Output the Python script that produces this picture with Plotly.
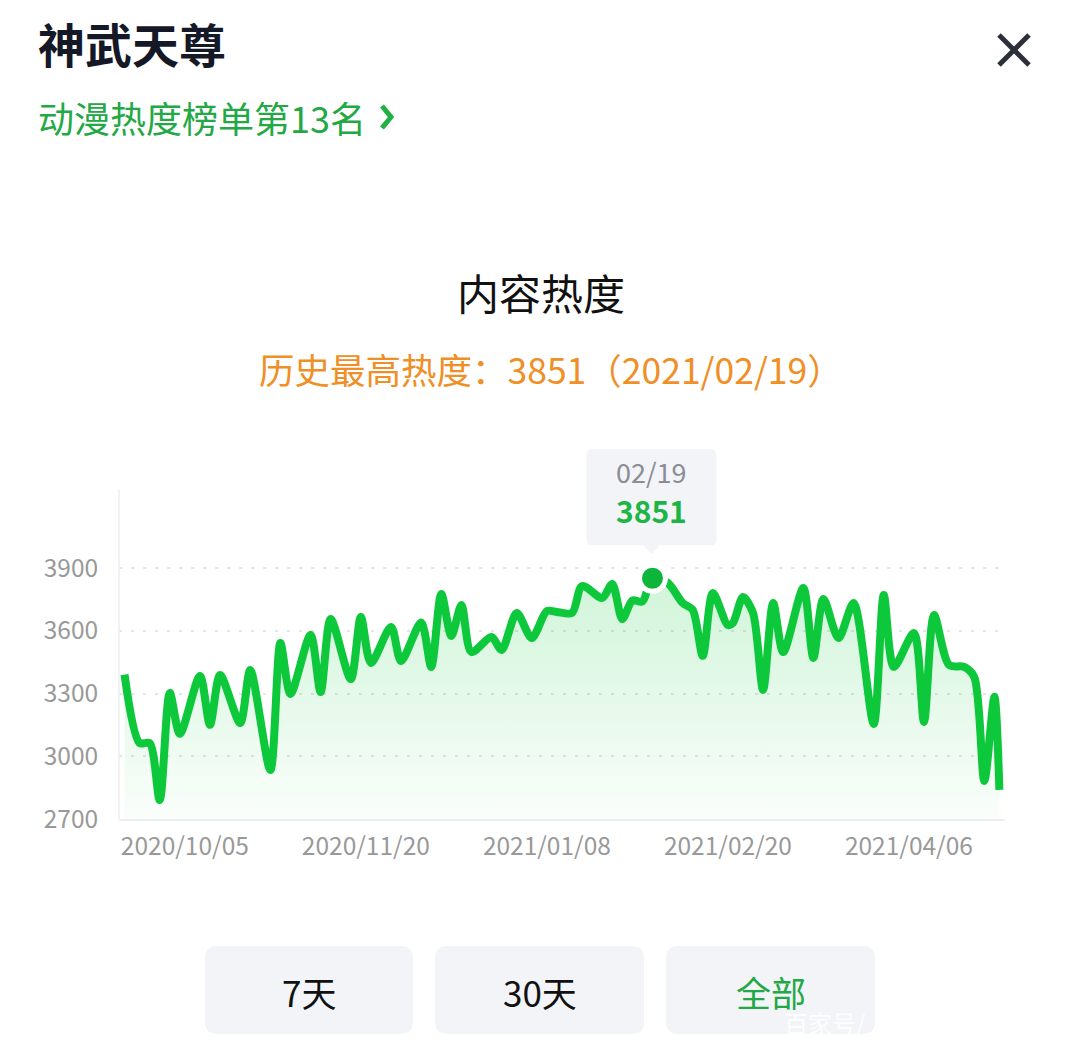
import plotly.graph_objects as go

# ---------------- data ----------------
day_idx = [1, 4, 6, 8, 10, 12, 16, 18, 20, 24, 26, 30, 32, 34, 38, 40, 42, 46, 48, 50,
           54, 56, 60, 62, 64, 66, 68, 70, 74, 76, 79, 82, 85, 87, 90, 92, 96, 98, 100, 102,
           104, 106, 109, 112, 114, 116, 118, 121, 122, 124, 126, 128, 130, 132, 136, 138, 140, 143, 146, 150,
           152, 154, 158, 160, 162, 165, 168, 170, 172, 174, 175]
heat = [3390, 3063, 3063, 2791, 3303, 3107, 3384, 3150, 3388, 3159, 3412, 2934, 3541, 3298, 3580, 3307, 3656, 3369, 3666, 3446,
        3618, 3455, 3640, 3427, 3776, 3575, 3723, 3498, 3570, 3508, 3685, 3565, 3694, 3690, 3685, 3814, 3757, 3824, 3656, 3745,
        3740, 3851, 3830, 3733, 3700, 3480, 3780, 3627, 3637, 3761, 3685, 3317, 3733, 3498, 3804, 3470, 3752, 3565, 3733, 3154,
        3771, 3427, 3589, 3164, 3675, 3436, 3427, 3379, 2882, 3284, 2839]
tick_idx = [13, 49, 85, 121, 157]
tick_labels = ["2020/10/05", "2020/11/20", "2021/01/08", "2021/02/20", "2021/04/06"]
y_ticks = [2700, 3000, 3300, 3600, 3900]
peak_date_full = "2021/02/19"
peak_date_short = "02/19"
title = "神武天尊"
rank_text = "动漫热度榜单第13名"
chart_title = "内容热度"
buttons = ["7天", "30天", "全部"]

peak_val = max(heat)
peak_x = day_idx[heat.index(peak_val)]

# ---------------- layout helpers ----------------
OFF = 8                      # default page body margin
W, H = 1080 - OFF, 1048 - OFF
PL, PR, PT, PB = 119, 1005, 440, 819          # plot area in page pixels
L, R, T, B = PL - OFF, PR - OFF, PT - OFF, PB - OFF
FONT = "Noto Sans CJK SC"
GREEN = "#0cc83a"


def px(x):
    return (x - OFF - L) / (R - L)


def py(y):
    return (B - (y - OFF)) / (B - T)


def rrect_paper(x0, y0, x1, y1, r):
    def P(x, y):
        return f"{px(x):.5f},{py(y):.5f}"
    return (f"M {P(x0 + r, y0)} L {P(x1 - r, y0)} Q {P(x1, y0)} {P(x1, y0 + r)} "
            f"L {P(x1, y1 - r)} Q {P(x1, y1)} {P(x1 - r, y1)} L {P(x0 + r, y1)} "
            f"Q {P(x0, y1)} {P(x0, y1 - r)} L {P(x0, y0 + r)} Q {P(x0, y0)} {P(x0 + r, y0)} Z")


fig = go.Figure()

fig.add_trace(go.Scatter(
    x=day_idx, y=heat, mode="lines",
    line=dict(color=GREEN, width=8, shape="spline", smoothing=0.8),
    fill="tozeroy",
    fillgradient=dict(type="vertical",
                      colorscale=[[0, "rgba(12,200,58,0.02)"], [1, "rgba(12,200,58,0.20)"]],
                      start=2700, stop=3900),
    hoverinfo="skip", showlegend=False))

fig.add_trace(go.Scatter(
    x=[peak_x], y=[peak_val], mode="markers",
    marker=dict(size=26, color="#0db53a", line=dict(color="white", width=5)),
    hoverinfo="skip", showlegend=False))

shapes = []
# faint left axis line
shapes.append(dict(type="line", xref="paper", yref="paper", x0=0, x1=0, y0=py(490), y1=0,
                   line=dict(color="#eeeeee", width=1.5)))
# tooltip box with pointer (pixel offsets from the peak point, y up)
x0, x1, y0, y1, r = -66, 64, 33, 129, 6
tip_path = (f"M {x0 + r},{y0} L -9,{y0} L -1,{y0 - 9} L 7,{y0} L {x1 - r},{y0} Q {x1},{y0} {x1},{y0 + r} "
            f"L {x1},{y1 - r} Q {x1},{y1} {x1 - r},{y1} L {x0 + r},{y1} Q {x0},{y1} {x0},{y1 - r} "
            f"L {x0},{y0 + r} Q {x0},{y0} {x0 + r},{y0} Z")
shapes.append(dict(type="path", xref="x", yref="y", xsizemode="pixel", ysizemode="pixel",
                   xanchor=peak_x, yanchor=peak_val, path=tip_path,
                   fillcolor="#f2f4f8", line=dict(width=0), layer="above"))

# close X
for (a, b, c, d) in [(999, 35, 1029, 65), (999, 65, 1029, 35)]:
    shapes.append(dict(type="line", xref="paper", yref="paper", x0=px(a), y0=py(b), x1=px(c), y1=py(d),
                       line=dict(color="#2b2f3a", width=5)))
# chevron
shapes.append(dict(type="path", xref="paper", yref="paper",
                   path=f"M {px(382)},{py(106)} L {px(391)},{py(117)} L {px(382)},{py(128)}",
                   line=dict(color="#22b045", width=5)))
# buttons
btn_boxes = [(205, 946, 413, 1034), (435, 946, 644, 1034), (666, 946, 875, 1034)]
for bx in btn_boxes:
    shapes.append(dict(type="path", xref="paper", yref="paper", path=rrect_paper(*bx, 12),
                       fillcolor="#f2f4f8", line=dict(width=0), layer="below"))

ann = []
ann.append(dict(text=title, x=px(36), y=py(42), xref="paper", yref="paper", xanchor="left", yanchor="middle",
                showarrow=False, font=dict(family=FONT, size=47, color="#151826", weight="bold")))
ann.append(dict(text=rank_text, x=px(36), y=py(117), xref="paper", yref="paper", xanchor="left", yanchor="middle",
                showarrow=False, font=dict(family=FONT, size=36, color="#22a845")))
ann.append(dict(text=chart_title, x=px(541), y=py(291), xref="paper", yref="paper", xanchor="center", yanchor="middle",
                showarrow=False, font=dict(family=FONT, size=42, color="#111111")))
ann.append(dict(text=f"历史最高热度：{peak_val}（{peak_date_full}）", x=px(551), y=py(368), xref="paper", yref="paper",
                xanchor="center", yanchor="middle", showarrow=False,
                font=dict(family=FONT, size=35.5, color="#ef8f25")))
ann.append(dict(text=peak_date_short, x=peak_x, y=peak_val, xref="x", yref="y", yshift=107, xshift=-1,
                showarrow=False, font=dict(family=FONT, size=27, color="#8a8d93")))
ann.append(dict(text=f"<b>{peak_val}</b>", x=peak_x, y=peak_val, xref="x", yref="y", yshift=68, xshift=-1,
                showarrow=False, font=dict(family=FONT, size=30, color="#1db545")))
btn_colors = ["#111111", "#111111", "#22a845"]
for bx, label, col in zip(btn_boxes, buttons, btn_colors):
    ann.append(dict(text=label, x=px((bx[0] + bx[2]) / 2), y=py(991), xref="paper", yref="paper",
                    xanchor="center", yanchor="middle", showarrow=False,
                    font=dict(family=FONT, size=35, color=col)))
ann.append(dict(text="百家号/", x=px(782), y=py(1022), xref="paper", yref="paper", xanchor="left", yanchor="middle",
                showarrow=False, font=dict(family=FONT, size=24, color="rgba(255,255,255,0.9)")))

x_left = (PL - 119.5) / 5.028
x_right = (PR - 119.5) / 5.028
y_top = 2700 + (PB - PT) / (251 / 1200)
fig.update_layout(
    width=W, height=H,
    margin=dict(l=L, r=W - R, t=T, b=H - B),
    paper_bgcolor="white", plot_bgcolor="white",
    shapes=shapes, annotations=ann,
    font=dict(family=FONT),
    xaxis=dict(range=[x_left, x_right], tickvals=tick_idx, ticktext=tick_labels,
               tickfont=dict(family=FONT, size=24.5, color="#999999"),
               ticks="outside", ticklen=5, tickcolor="rgba(0,0,0,0)",
               showgrid=False, zeroline=False, showline=True, linecolor="#eeeeee", linewidth=2,
               fixedrange=True),
    yaxis=dict(range=[2700, y_top], tickvals=y_ticks,
               tickfont=dict(family=FONT, size=24.5, color="#999999"),
               ticks="outside", ticklen=15, tickcolor="rgba(0,0,0,0)",
               showgrid=True, gridcolor="#e4e4e4", gridwidth=2, griddash="3px,9px",
               zeroline=False, showline=False,
               fixedrange=True),
)

fig.write_html("out.html")
